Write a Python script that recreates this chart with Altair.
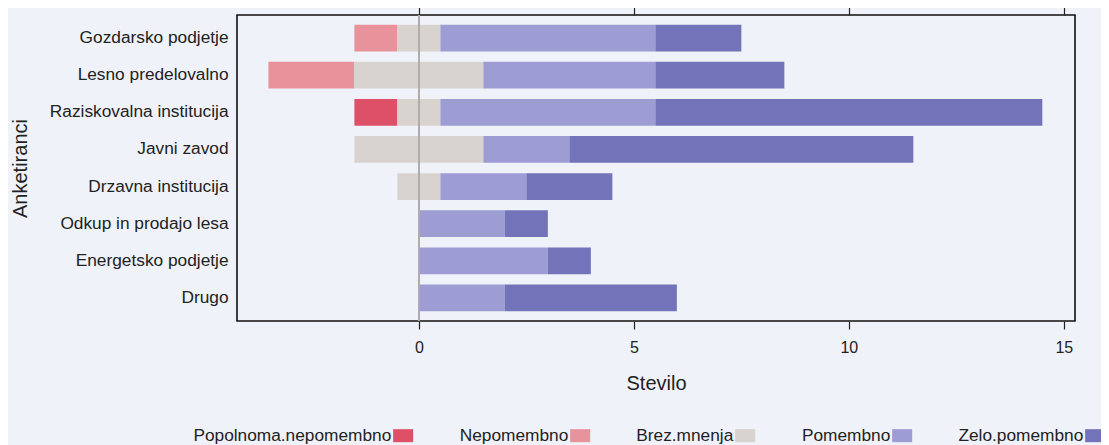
import altair as alt
import pandas as pd

categories = ["Gozdarsko podjetje", "Lesno predelovalno", "Raziskovalna institucija",
              "Javni zavod", "Drzavna  institucija", "Odkup in prodajo lesa",
              "Energetsko podjetje", "Drugo"]
levels = ["Popolnoma.nepomembno", "Nepomembno", "Brez.mnenja", "Pomembno", "Zelo.pomembno"]
colors = ["#DE4F68", "#E8929B", "#D9D3CF", "#9D9DD3", "#7373B9"]

popolnoma = [0, 0, 1, 0, 0, 0, 0, 0]
nepomembno = [1, 2, 0, 0, 0, 0, 0, 0]
brez = [1, 3, 1, 3, 1, 0, 0, 0]
pomembno = [5, 4, 5, 2, 2, 2, 3, 2]
zelo = [2, 3, 9, 8, 2, 1, 1, 4]

tick_values = [0, 5, 10, 15]

rows = []
for i, c in enumerate(categories):
    counts = [popolnoma[i], nepomembno[i], brez[i], pomembno[i], zelo[i]]
    start = -(counts[0] + counts[1] + counts[2] / 2)
    for lev, v in zip(levels, counts):
        if v > 0:
            rows.append(dict(cat=c, level=lev, x=start, x2=start + v))
        start += v
df = pd.DataFrame(rows)

xscale = alt.Scale(domain=[-4.23, 15.26], nice=False, zero=False)

# swatch drawn to the right of the (right-aligned) legend label
swatch = "M1.4,-0.867L4.07,-0.867L4.07,0.867L1.4,0.867Z"

bars = alt.Chart(df).mark_bar().encode(
    x=alt.X("x:Q", scale=xscale,
            axis=alt.Axis(values=tick_values, title="Stevilo", grid=False, domain=False,
                          tickSize=8, tickColor="#222", tickWidth=1.2,
                          labelFontSize=16, labelColor="#222", labelPadding=10,
                          titleFontSize=20, titleFontWeight="normal", titleColor="#222",
                          titleY=62, titleBaseline="middle")),
    x2="x2:Q",
    y=alt.Y("cat:N", sort=categories,
            scale=alt.Scale(paddingInner=0.28, paddingOuter=0.26),
            axis=alt.Axis(title="Anketiranci", ticks=False, domain=False,
                          labelFontSize=17.3, labelColor="#222", labelPadding=9,
                          labelLimit=300,
                          titleFontSize=20, titleFontWeight="normal", titleColor="#222",
                          titleX=-217, titleBaseline="middle")),
    color=alt.Color("level:N", scale=alt.Scale(domain=levels, range=colors),
                    legend=alt.Legend(title=None, orient="none", direction="horizontal",
                                      legendX=137, legendY=412,
                                      symbolType=swatch, symbolSize=225,
                                      symbolStrokeWidth=0, symbolOpacity=1,
                                      labelFontSize=17.3, labelColor="#222",
                                      labelAlign="right", labelOffset=0,
                                      labelLimit=400,
                                      columnPadding=45)),
)

zero_line = alt.Chart(df).mark_rule(color="#B3ABAA", strokeWidth=1.5).encode(
    x=alt.X(datum=0, scale=xscale,
            axis=alt.Axis(orient="top", values=tick_values, labels=False, title=None,
                          grid=False, domain=False, tickSize=9, tickColor="#222",
                          tickWidth=1.2))
)

chart = alt.layer(bars, zero_line).resolve_axis(x="independent").properties(
    width=838, height=306,
    padding={"left": 229, "top": 7, "right": 26, "bottom": 124},
    autosize=alt.AutoSizeParams(type="none"),
    background="#F0F2F9",
).configure(font="Liberation Sans").configure_view(stroke="#111", strokeWidth=1.6)

chart.save("out.html", embed_options={"renderer": "svg", "actions": False})
